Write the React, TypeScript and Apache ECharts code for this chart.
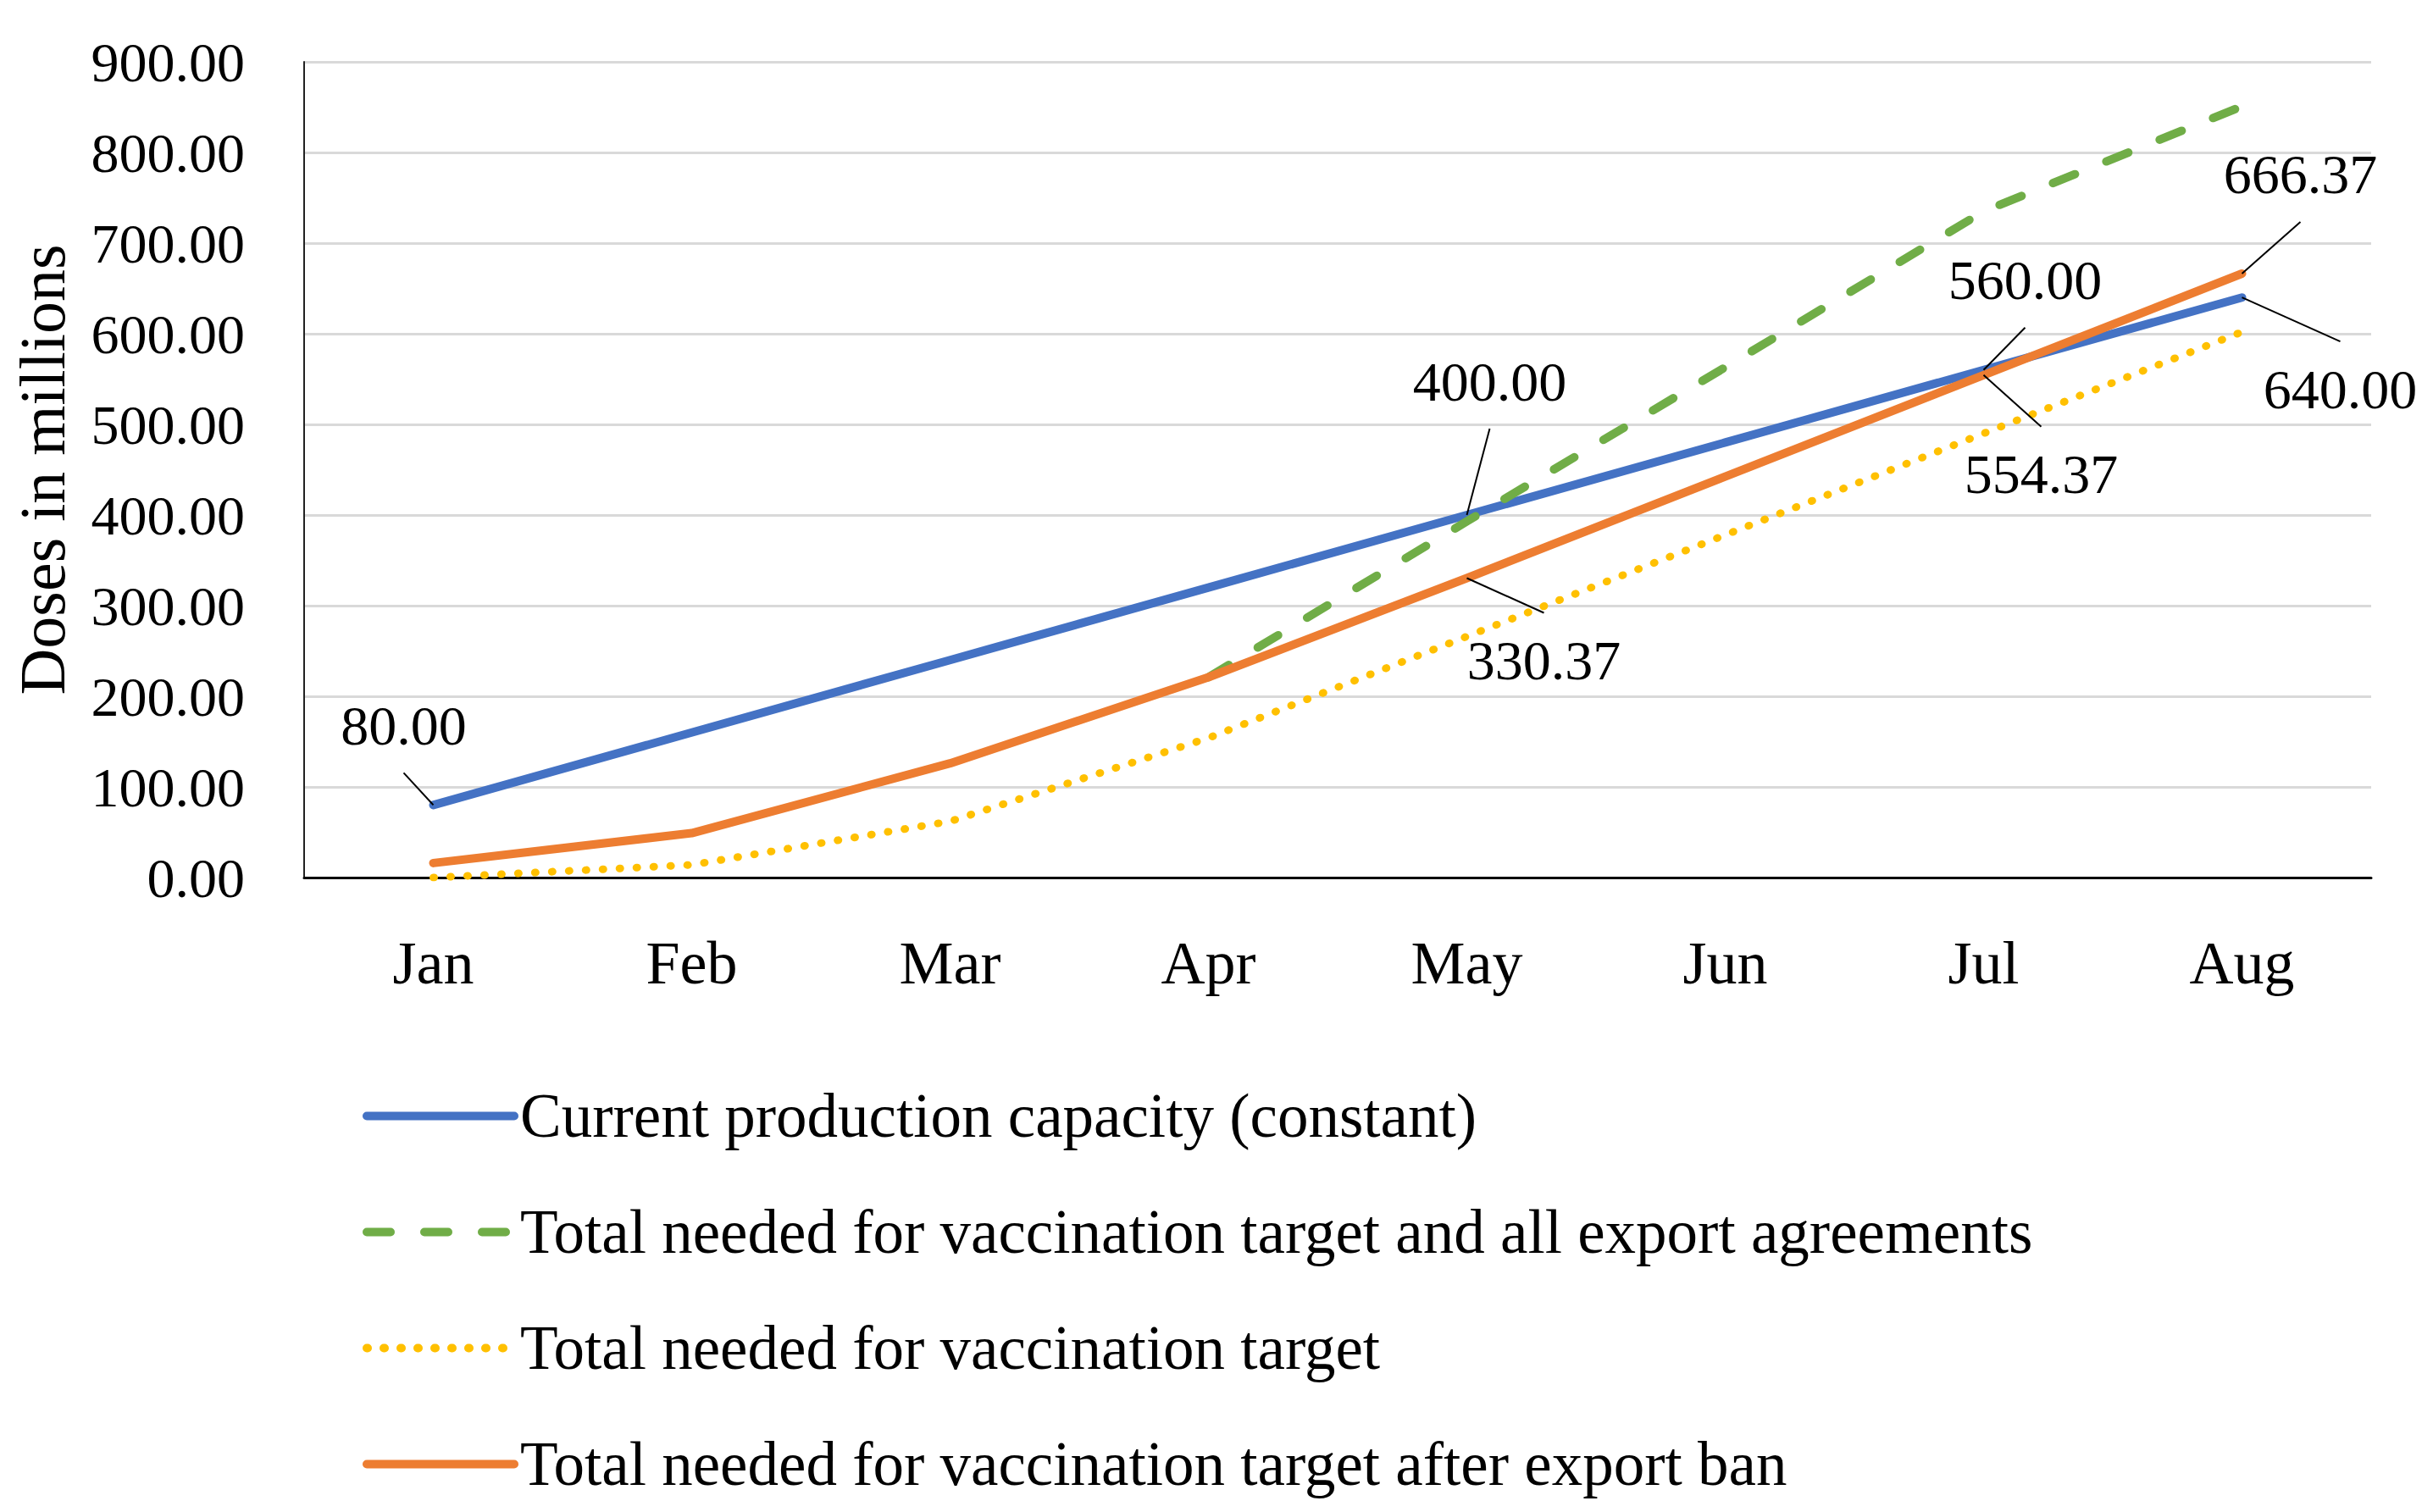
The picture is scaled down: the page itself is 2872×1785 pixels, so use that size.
import React, { useEffect, useRef } from 'react';
import * as echarts from 'echarts';

const months = ['Jan', 'Feb', 'Mar', 'Apr', 'May', 'Jun', 'Jul', 'Aug'];
const capacity = [80, 160, 240, 320, 400, 480, 560, 640];
const allExports = [null, null, null, 221, 393, 563, 735, 851];
const vaccTarget = [0, 14, 62, 154, 266, 378, 490, 602];
const afterBan = [16, 49, 126, 221, 330.37, 442.37, 554.37, 666.37];
const seriesNames = [
  'Current production capacity (constant)',
  'Total needed for vaccination target and all export agreements',
  'Total needed for vaccination target',
  'Total needed for vaccination target after export ban',
];
const yMin = 0;
const yMax = 900;
const yStep = 100;
const yTitle = 'Doses in millions';

// which points carry a value label: [seriesIndex, dataIndex]
const labelledPoints = [
  [0, 0], [0, 4], [0, 6], [0, 7],
  [3, 4], [3, 6], [3, 7],
];
// label displacement from its point (px), same order as labelledPoints
const labelOffsets = [
  [-35, -94], [27, -158], [49, -106], [116, 108],
  [91, 97], [68, 117], [69, -117],
];
const leaderReach = 56; // half height of a label box, where leader lines attach

const FONT = "'Liberation Serif', 'Times New Roman', serif";
const NUM_FS = 66;
const TXT_FS = 72;

function buildData(values: (number | null)[], sIdx: number) {
  return values.map((v, i) => {
    const isLab = labelledPoints.some(p => p[0] === sIdx && p[1] === i);
    if (!isLab) return v;
    return {
      value: v,
      symbol: 'circle',
      symbolSize: 1,
      label: { show: true },
    };
  });
}

function offsetFor(sIdx: number, dIdx: number) {
  const k = labelledPoints.findIndex(p => p[0] === sIdx && p[1] === dIdx);
  return k >= 0 ? labelOffsets[k] : [0, 0];
}

export default function App() {
  const ref = useRef<HTMLDivElement>(null);
  useEffect(() => {
    document.body.style.margin = '0';
    const chart = echarts.init(ref.current!, null, { renderer: 'svg' });
    const colors = ['#4472C4', '#70AD47', '#FFC000', '#ED7D31'];
    const styles: any[] = [
      { width: 10, type: 'solid', cap: 'round' },
      { width: 10, type: [28, 40], cap: 'round' },
      { width: 9, type: [1, 19], cap: 'round' },
      { width: 10, type: 'solid', cap: 'round' },
    ];
    const raw: any[] = [capacity, allExports, vaccTarget, afterBan];
    const series = raw.map((vals, s) => ({
      name: seriesNames[s],
      type: 'line',
      data: buildData(vals, s),
      symbol: 'none',
      showSymbol: true,
      smooth: false,
      connectNulls: false,
      itemStyle: { color: colors[s] },
      lineStyle: { color: colors[s], join: 'round', ...styles[s] },
      label: {
        show: false,
        position: 'inside',
        fontFamily: FONT,
        fontSize: NUM_FS,
        color: '#000',
        formatter: (p: any) => Number(p.value).toFixed(2),
      },
      labelLayout: (params: any) => {
        const o = offsetFor(params.seriesIndex, params.dataIndex);
        return { dx: o[0], dy: o[1] };
      },
      emphasis: { disabled: true },
      z: 2 + s,
    }));

    chart.setOption({
      animation: false,
      backgroundColor: '#ffffff',
      grid: { left: 359, right: 73, top: 73, bottom: 749, containLabel: false, outerBoundsMode: 'none' },
      xAxis: {
        type: 'category',
        data: months,
        boundaryGap: true,
        axisLine: { show: true, lineStyle: { color: '#000', width: 3 } },
        axisTick: { show: false },
        axisLabel: { fontFamily: FONT, fontSize: TXT_FS, color: '#000', margin: 65 },
        splitLine: { show: false },
      },
      yAxis: {
        type: 'value',
        min: yMin,
        max: yMax,
        interval: yStep,
        name: yTitle,
        nameLocation: 'middle',
        nameGap: 271,
        nameRotate: 90,
        nameTextStyle: { fontFamily: FONT, fontSize: 76, color: '#000' },
        axisLine: { show: true, lineStyle: { color: '#222', width: 2 } },
        axisTick: { show: false },
        axisLabel: {
          fontFamily: FONT,
          fontSize: NUM_FS,
          color: '#000',
          margin: 70,
          formatter: (v: number) => v.toFixed(2),
        },
        splitLine: { show: true, lineStyle: { color: '#d9d9d9', width: 3 } },
      },
      legend: {
        orient: 'vertical',
        left: 423,
        top: 1276,
        itemWidth: 174,
        itemHeight: 14,
        itemGap: 64,
        data: seriesNames,
        itemStyle: { opacity: 0 },
        lineStyle: { width: 10 },
        textStyle: {
          fontFamily: FONT,
          fontSize: 73,
          color: '#000',
          lineHeight: 72,
          padding: [0, 0, 0, 2],
        },
      },
      series,
    });

    const leaders = labelledPoints.map(([s, d], k) => {
      const p = chart.convertToPixel({ seriesIndex: s }, [d, raw[s][d]]) as number[];
      const o = labelOffsets[k];
      const cx = p[0] + o[0];
      const cy = p[1] + o[1];
      const ey = cy + (o[1] < 0 ? leaderReach : -leaderReach);
      return {
        type: 'line',
        shape: { x1: p[0], y1: p[1], x2: cx, y2: ey },
        style: { stroke: '#000', lineWidth: 2 },
        z: 20,
      };
    });
    chart.setOption({ graphic: leaders });
    return () => chart.dispose();
  }, []);
  return <div ref={ref} style={{ width: 2872, height: 1785 }} />;
}
